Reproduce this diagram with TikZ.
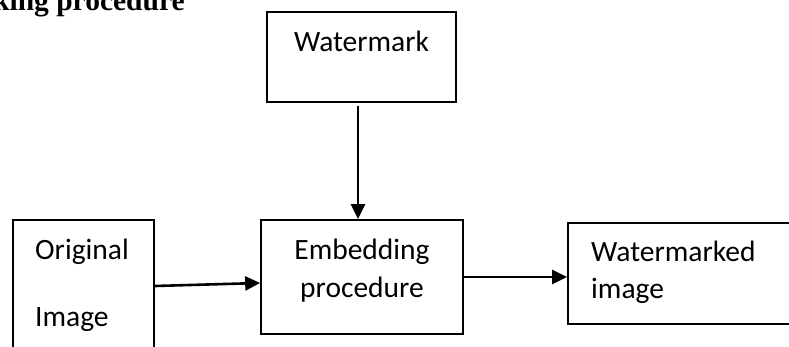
\documentclass[tikz,border=0pt]{standalone}
\usepackage{fontspec}
\setmainfont{Carlito}
\newfontfamily\headfont{Liberation Serif}
\usetikzlibrary{arrows.meta,calc}
\begin{document}
\begin{tikzpicture}[x=1pt,y=1pt,
  blk/.style={draw=black,line width=1.7pt,rectangle,inner sep=0pt},
  lbl/.style={inner sep=0pt,font=\fontsize{29.5}{34}\selectfont},
  flow/.style={line width=2.6pt,-{Triangle[length=15pt,width=14pt]}}]
\useasboundingbox (0,0) rectangle (789,347);
\clip (0,0) rectangle (789,347);
% heading
\node[inner sep=0pt,anchor=base west,font=\headfont\bfseries\fontsize{29.5}{34}\selectfont] (head) at (-7,336) {king procedure};
% blocks
\node[blk,minimum width=189pt,minimum height=90pt] (wm) at (361.5,290) {};
\node[blk,minimum width=202pt,minimum height=114pt] (emb) at (362,70) {};
\node[blk,minimum width=141pt,minimum height=142pt] (orig) at (83.5,56) {};
\node[blk,minimum width=232pt,minimum height=101pt] (out) at (684,73.5) {};
% labels
\node[lbl,anchor=base] (t1) at (361.5,295) {Watermark};
\node[lbl,anchor=base] (t2) at (362,87) {Embedding};
\node[lbl,anchor=base] (t3) at (362,49) {procedure};
\node[lbl,anchor=base west] (t4) at (35,87) {Original};
\node[lbl,anchor=base west] (t5) at (35,20) {Image};
\node[lbl,anchor=base west] (t6) at (591,85) {Watermarked};
\node[lbl,anchor=base west] (t7) at (591,48) {image};
% connectors
\draw[flow] ($(wm.south)+(-3.5,-3)$) -- ($(emb.north)+(-4,0)$);
\draw[flow] ($(orig.east)+(0,5)$) -- ($(emb.west)+(0,-6)$);
\draw[flow] (emb.east) -- (emb.east -| out.west);
\end{tikzpicture}
\end{document}
